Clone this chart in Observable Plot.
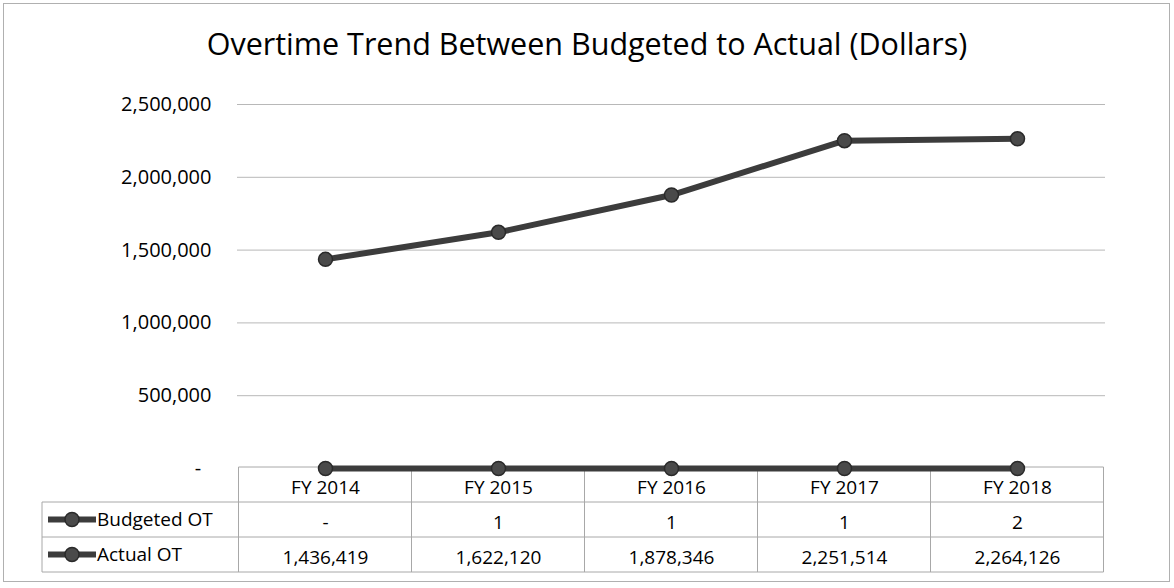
<!DOCTYPE html>
<html>
<head>
<meta charset="utf-8">
<script src="https://cdn.jsdelivr.net/npm/d3@7"></script>
<script src="https://cdn.jsdelivr.net/npm/@observablehq/plot@0.6"></script>
<style>
  html, body { margin: 0; padding: 0; background: #fff; }
  body { width: 1174px; height: 588px; position: relative; overflow: hidden; font-family: "Open Sans", Lato, sans-serif; }
  #frame { position: absolute; left: 3px; top: 3px; width: 1167px; height: 579px; border: 1px solid #b0b0b0; box-sizing: border-box; }
  #title { position: absolute; left: 0; top: 22px; width: 1174px; text-align: center; font-size: 30.5px; color: #000; letter-spacing: 0px; }
  #chart { position: absolute; left: 0; top: 80px; }
</style>
</head>
<body>
<div id="frame"></div>
<div id="title">Overtime Trend Between Budgeted to Actual (Dollars)</div>
<div id="chart"></div>
<script>
const categories = ["FY 2014", "FY 2015", "FY 2016", "FY 2017", "FY 2018"];
const seriesNames = ["Budgeted OT", "Actual OT"];
const budgetedOT = [0, 1, 1, 1, 2];
const actualOT = [1436419, 1622120, 1878346, 2251514, 2264126];
const yTicks = [0, 500000, 1000000, 1500000, 2000000, 2500000];

const fmt = d => d === 0 ? "-\u00a0\u00a0" : d3.format(",")(d);
const cellFmt = d => d === 0 ? "-" : d3.format(",")(d);

const budgetRows = categories.map((c, i) => ({cat: c, v: budgetedOT[i]}));
const actualRows = categories.map((c, i) => ({cat: c, v: actualOT[i]}));

const lineColor = "#3c3c3c";
const font = "'Open Sans', Lato, sans-serif";

const plot = Plot.plot({
  width: 1174,
  height: 508,
  marginLeft: 237,
  marginRight: 69,
  marginTop: 24,
  marginBottom: 120,
  style: {fontFamily: font, fontSize: "19px", color: "#000", background: "transparent"},
  x: {type: "point", domain: categories, padding: 0.5, axis: null},
  y: {domain: [0, 2500000], axis: null},
  marks: [
    Plot.ruleY(yTicks.filter(d => d > 0), {stroke: "#b8b8b8", strokeWidth: 1}),
    Plot.axisY({ticks: yTicks, tickFormat: fmt, tickSize: 0, tickPadding: 26, label: null, fontSize: 20, fill: "#000"}),
    Plot.line(actualRows, {x: "cat", y: "v", stroke: lineColor, strokeWidth: 6}),
    Plot.dot(actualRows, {x: "cat", y: "v", r: 7, fill: "#4a4a4a", stroke: "#2a2a2a", strokeWidth: 1.5}),
    Plot.line(budgetRows, {x: "cat", y: "v", stroke: lineColor, strokeWidth: 6}),
    Plot.dot(budgetRows, {x: "cat", y: "v", r: 7, fill: "#4a4a4a", stroke: "#2a2a2a", strokeWidth: 1.5}),
    Plot.text(categories, {x: d => d, y: () => 0, dy: 19, text: d => d, fontSize: 19, fill: "#000", lineAnchor: "middle"}),
    Plot.text(budgetRows, {x: "cat", y: () => 0, dy: 54, text: d => cellFmt(d.v), fontSize: 19, fill: "#000", lineAnchor: "middle"}),
    Plot.text(actualRows, {x: "cat", y: () => 0, dy: 89, text: d => cellFmt(d.v), fontSize: 19, fill: "#000", lineAnchor: "middle"})
  ]
});

document.getElementById("chart").appendChild(plot);

// table grid drawn from the plot's scales
const xs = plot.scale("x");
const ys = plot.scale("y");
const step = xs.apply(categories[1]) - xs.apply(categories[0]);
const left = xs.apply(categories[0]) - step / 2;
const right = xs.apply(categories[categories.length - 1]) + step / 2;
const y0 = ys.apply(0) - 1;
const rowH = 35;
const labelLeft = 42;
const svg = d3.select(plot);
const g = svg.insert("g", ":first-child").attr("stroke", "#a8a8a8").attr("stroke-width", 1).attr("fill", "none");
g.append("line").attr("x1", left).attr("x2", right).attr("y1", y0).attr("y2", y0);
for (let r = 1; r <= 3; r++) {
  g.append("line").attr("x1", labelLeft).attr("x2", right).attr("y1", y0 + r * rowH).attr("y2", y0 + r * rowH);
}
g.append("line").attr("x1", labelLeft).attr("x2", labelLeft).attr("y1", y0 + rowH).attr("y2", y0 + 3 * rowH);
for (let i = 0; i <= categories.length; i++) {
  const x = left + i * step;
  g.append("line").attr("x1", x).attr("x2", x).attr("y1", y0).attr("y2", y0 + 3 * rowH);
}
// row labels with legend keys
const lg = svg.append("g").attr("text-anchor", "start");
seriesNames.forEach((name, i) => {
  const cy = y0 + rowH * (i + 1) + rowH / 2;
  lg.append("line").attr("x1", 48).attr("x2", 96).attr("y1", cy).attr("y2", cy)
    .attr("stroke", lineColor).attr("stroke-width", 6);
  lg.append("circle").attr("cx", 72).attr("cy", cy).attr("r", 7)
    .attr("fill", "#4a4a4a").attr("stroke", "#2a2a2a").attr("stroke-width", 1.5);
  lg.append("text").attr("x", 97).attr("y", cy).attr("dy", "0.35em").attr("text-anchor", "start")
    .attr("font-size", 19).attr("fill", "#000").attr("font-family", font).text(name);
});
</script>
</body>
</html>
